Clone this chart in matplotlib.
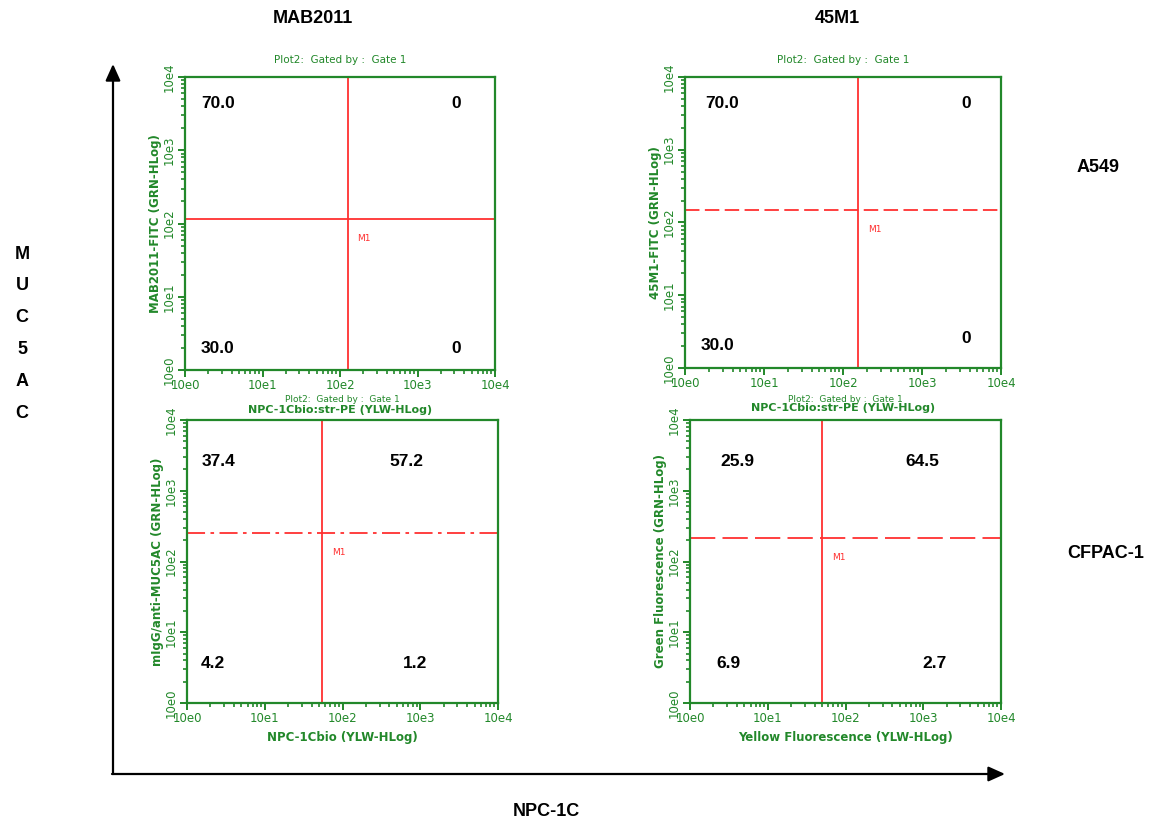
import matplotlib
matplotlib.use("Agg")
import matplotlib.pyplot as plt
import numpy as np
from matplotlib.ticker import LogLocator, FuncFormatter, NullFormatter

# --- data -------------------------------------------------------------
antibodies = ["MAB2011", "45M1"]
cell_lines = ["A549", "CFPAC-1"]

x_labels = ["NPC-1Cbio:str-PE (YLW-HLog)", "NPC-1Cbio:str-PE (YLW-HLog)",
            "NPC-1Cbio (YLW-HLog)", "Yellow Fluorescence (YLW-HLog)"]
y_labels = ["MAB2011-FITC (GRN-HLog)", "45M1-FITC (GRN-HLog)",
            "mIgG/anti-MUC5AC (GRN-HLog)", "Green Fluorescence (GRN-HLog)"]

# quadrant percentages: upper-left, upper-right, lower-left, lower-right
q_ul = ["70.0", "70.0", "37.4", "25.9"]
q_ur = ["0", "0", "57.2", "64.5"]
q_ll = ["30.0", "30.0", "4.2", "6.9"]
q_lr = ["0", "0", "1.2", "2.7"]

# gate (M1) positions on the log axes
gate_x = [126, 155, 55, 50]
gate_y = [115, 148, 250, 213]

decades = [0, 1, 2, 3, 4]

# --- layout -----------------------------------------------------------
W, H = 1159, 823
GREEN = "#22882a"
RED = "#ff3030"
BOLD = "Liberation Sans"

# axes boxes in pixels: left, top, right, bottom
boxes = [(185, 77, 495, 370), (685, 77, 1001, 368),
         (187, 420, 498, 703), (690, 420, 1001, 703)]
# text positions (axes fraction) for the four quadrant numbers
txt_pos = [
    [(0.106, 0.91), (0.874, 0.91), (0.106, 0.072), (0.874, 0.072)],
    [(0.117, 0.91), (0.889, 0.91), (0.104, 0.076), (0.889, 0.103)],
    [(0.10, 0.855), (0.707, 0.855), (0.084, 0.14), (0.733, 0.14)],
    [(0.151, 0.855), (0.746, 0.855), (0.122, 0.14), (0.785, 0.14)],
]
title_y = [60, 60, 399, 399]          # pixel centre of the "Plot2" line
title_size = [7.5, 7.5, 6.5, 6.5]
xlabel_pads = [9.0, 9.0, 4.0, 4.0]
xlabel_size = [8, 8, 8.5, 8.5]
hline_styles = ["-", (0, (8, 3)), (0, (10, 3, 2, 3)), (0, (14, 4))]

fig = plt.figure(figsize=(W / 100, H / 100), dpi=100)

# background axes in pixel coordinates for the big arrows and labels
bg = fig.add_axes([0, 0, 1, 1])
bg.set_xlim(0, W)
bg.set_ylim(H, 0)
bg.axis("off")

bg.annotate("", xy=(113, 64), xytext=(113, 774),
            arrowprops=dict(arrowstyle="-|>,head_width=0.45,head_length=1.0",
                            color="black", lw=1.6, shrinkA=0, shrinkB=0))
bg.annotate("", xy=(1005, 774), xytext=(112, 774),
            arrowprops=dict(arrowstyle="-|>,head_width=0.45,head_length=1.0",
                            color="black", lw=1.6, shrinkA=0, shrinkB=0))

head_font = dict(family=BOLD, fontweight="bold", fontsize=13, color="black")
for name, xc in zip(antibodies, [313, 837]):
    bg.text(xc, 18, name, ha="center", va="center", **head_font)
for name, xc, yc in zip(cell_lines, [1098, 1106], [167, 554]):
    bg.text(xc, yc, name, ha="center", va="center", **head_font)
bg.text(546, 812, "NPC-1C", ha="center", va="center", **head_font)
for i, ch in enumerate("MUC5AC"):
    bg.text(22, 254 + i * 31.8, ch, ha="center", va="center", **head_font)


def log_fmt(v, pos):
    return "10e%d" % int(round(np.log10(v)))


for i, (l, t, r, b) in enumerate(boxes):
    ax = fig.add_axes([l / W, 1 - b / H, (r - l) / W, (b - t) / H])
    ax.set_xscale("log")
    ax.set_yscale("log")
    ax.set_xlim(10 ** decades[0], 10 ** decades[-1])
    ax.set_ylim(10 ** decades[0], 10 ** decades[-1])

    for sp in ax.spines.values():
        sp.set_color(GREEN)
        sp.set_linewidth(1.6)

    ax.xaxis.set_major_locator(LogLocator(base=10))
    ax.yaxis.set_major_locator(LogLocator(base=10))
    ax.xaxis.set_minor_locator(LogLocator(base=10, subs=np.arange(2, 10)))
    ax.yaxis.set_minor_locator(LogLocator(base=10, subs=np.arange(2, 10)))
    ax.xaxis.set_major_formatter(FuncFormatter(log_fmt))
    ax.yaxis.set_major_formatter(FuncFormatter(log_fmt))
    ax.xaxis.set_minor_formatter(NullFormatter())
    ax.yaxis.set_minor_formatter(NullFormatter())
    ax.tick_params(which="major", direction="out", length=5, width=1.4,
                   color=GREEN, labelcolor=GREEN, labelsize=8.5, pad=1.5)
    ax.tick_params(which="minor", direction="out", length=3, width=1.2,
                   color=GREEN)
    for lab in ax.get_yticklabels():
        lab.set_rotation(90)
        lab.set_va("center")

    ax.set_xlabel(x_labels[i], color=GREEN, fontsize=xlabel_size[i],
                  fontweight="bold", labelpad=xlabel_pads[i])
    ax.set_ylabel(y_labels[i], color=GREEN, fontsize=8.5, fontweight="bold",
                  labelpad=1)
    bg.text((l + r) / 2, title_y[i], "Plot2:  Gated by :  Gate 1",
            color=GREEN, fontsize=title_size[i], ha="center", va="center")

    # quadrant gates
    ax.axvline(gate_x[i], color=RED, lw=1.3)
    ax.axhline(gate_y[i], color=RED, lw=1.3, linestyle=hline_styles[i])
    ax.annotate("M1", xy=(gate_x[i], gate_y[i]), xytext=(7, -14),
                textcoords="offset points", color=RED, fontsize=6.5,
                ha="left", va="center")

    vals = [q_ul[i], q_ur[i], q_ll[i], q_lr[i]]
    for v, (fx, fy) in zip(vals, txt_pos[i]):
        ax.text(fx, fy, v, transform=ax.transAxes, ha="center", va="center",
                fontsize=12.5, fontweight="bold", family=BOLD,
                color="black")

fig.savefig("out.png", dpi=100)
